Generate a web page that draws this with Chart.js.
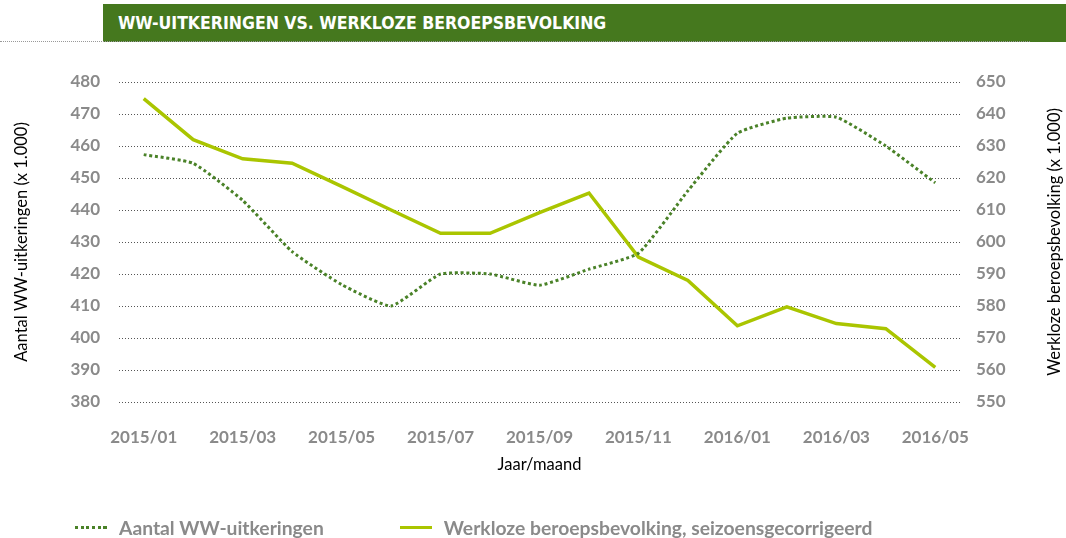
<!DOCTYPE html>
<html>
<head>
<meta charset="utf-8">
<script src="https://cdn.jsdelivr.net/npm/chart.js@4.4.1/dist/chart.umd.min.js"></script>
<style>
  body { margin: 0; background: #fff; font-family: Lato, "Open Sans", sans-serif; }
  #wrap { position: relative; width: 1066px; height: 538px; overflow: hidden; }
  #bar { position: absolute; left: 103px; top: 4px; width: 963px; height: 38px; background: #45781e;
         color: #fff; font-weight: 700; font-size: 17.5px; line-height: 38px; padding-left: 15px; box-sizing: border-box;
         font-family: "DejaVu Sans Condensed", "Liberation Sans Narrow", "Open Sans", sans-serif; font-stretch: condensed; }
  #rule { position: absolute; left: 0; top: 41px; width: 1030px; border-top: 1px dotted #999; }
  #legend { position: absolute; left: 75px; top: 516px; display: flex; align-items: center;
            font-size: 19.3px; font-weight: 700; color: #8a8a8a; }
  .item { display: flex; align-items: center; margin-right: 76px; }
  .swatch { width: 32px; height: 3px; margin-right: 12px; }
</style>
</head>
<body>
<div id="wrap">
  <canvas id="c" width="1066" height="538"></canvas>
  <div id="bar">WW-UITKERINGEN VS. WERKLOZE BEROEPSBEVOLKING</div>
  <div id="rule"></div>
  <div id="legend"></div>
</div>
<script>
var months = ['2015/01', '2015/02', '2015/03', '2015/04', '2015/05', '2015/06', '2015/07', '2015/08', '2015/09',
              '2015/10', '2015/11', '2015/12', '2016/01', '2016/02', '2016/03', '2016/04', '2016/05'];
var wwUitkeringen = [457.3, 454.6, 443, 427, 416.7, 410, 420, 420, 416.5, 421.5, 426.5, 446, 464, 468.7, 469, 460, 448.5];
var werkloos = [644.8, 632, 626, 624.6, 617.4, 610, 602.7, 602.7, 609.2, 615.3, 595.3, 588, 573.8, 579.7, 574.5, 572.9, 560.8];
var seriesNames = ['Aantal WW-uitkeringen', 'Werkloze beroepsbevolking, seizoensgecorrigeerd'];

var tickFont = { family: 'Lato', size: 17, weight: 'bold' };
var titleFont = { family: 'Lato', size: 16.5 };

// right axis title reads bottom-to-top, Chart.js rotates it the other way
var rightTitle = {
    id: 'rightTitle',
    afterDraw: function (chart) {
        var ctx = chart.ctx, area = chart.chartArea;
        ctx.save();
        ctx.translate(1055, (area.top + area.bottom) / 2);
        ctx.rotate(-Math.PI / 2);
        ctx.font = '16.5px Lato';
        ctx.fillStyle = '#000';
        ctx.textAlign = 'center';
        ctx.textBaseline = 'middle';
        ctx.fillText('Werkloze beroepsbevolking (x 1.000)', 0, 0);
        ctx.restore();
    }
};

var chart = new Chart(document.getElementById('c').getContext('2d'), {
    type: 'line',
    data: {
        labels: months,
        datasets: [{
            label: seriesNames[0],
            data: wwUitkeringen,
            yAxisID: 'y',
            borderColor: '#4a8228',
            borderWidth: 3,
            borderDash: [3, 2.7],
            pointRadius: 0,
            tension: 0.15,
            fill: false
        }, {
            label: seriesNames[1],
            data: werkloos,
            yAxisID: 'y1',
            borderColor: '#aac500',
            borderWidth: 3.5,
            pointRadius: 0,
            tension: 0,
            fill: false
        }]
    },
    options: {
        responsive: false,
        animation: false,
        layout: { padding: { top: 82, left: 0, right: 0, bottom: 56 } },
        plugins: { legend: { display: false }, tooltip: { enabled: false } },
        scales: {
            x: {
                offset: true,
                grid: { display: false, drawTicks: false },
                border: { display: false },
                ticks: {
                    autoSkip: false, maxRotation: 0, padding: 25, color: '#8a8a8a', font: tickFont,
                    callback: function (v, i) { return i % 2 === 0 ? months[i] : ''; }
                },
                title: { display: true, text: 'Jaar/maand', color: '#000', font: titleFont, padding: { top: 0, bottom: 7 } },
                afterFit: function (s) { s.height = 80; }
            },
            y: {
                position: 'left',
                min: 380, max: 480,
                ticks: { stepSize: 10, padding: 19, color: '#8a8a8a', font: tickFont },
                grid: { color: '#555', lineWidth: 1, drawTicks: false },
                border: { display: false, dash: [1, 2] },
                title: { display: true, text: 'Aantal WW-uitkeringen (x 1.000)', color: '#000', font: titleFont, padding: { top: 12, bottom: 0 } },
                afterFit: function (s) { s.width = 119; }
            },
            y1: {
                position: 'right',
                min: 550, max: 650,
                ticks: { stepSize: 10, padding: 16, color: '#8a8a8a', font: tickFont },
                grid: { display: false, drawTicks: false },
                border: { display: false },
                afterFit: function (s) { s.width = 106; }
            }
        }
    },
    plugins: [rightTitle]
});

// legend built from the datasets
var legend = document.getElementById('legend');
chart.data.datasets.forEach(function (ds) {
    var item = document.createElement('div');
    item.className = 'item';
    var sw = document.createElement('span');
    sw.className = 'swatch';
    if (ds.borderDash) {
        sw.style.background = 'repeating-linear-gradient(90deg, ' + ds.borderColor + ' 0 3px, transparent 3px 5.7px)';
    } else {
        sw.style.background = ds.borderColor;
    }
    item.appendChild(sw);
    item.appendChild(document.createTextNode(ds.label));
    legend.appendChild(item);
});
</script>
</body>
</html>
